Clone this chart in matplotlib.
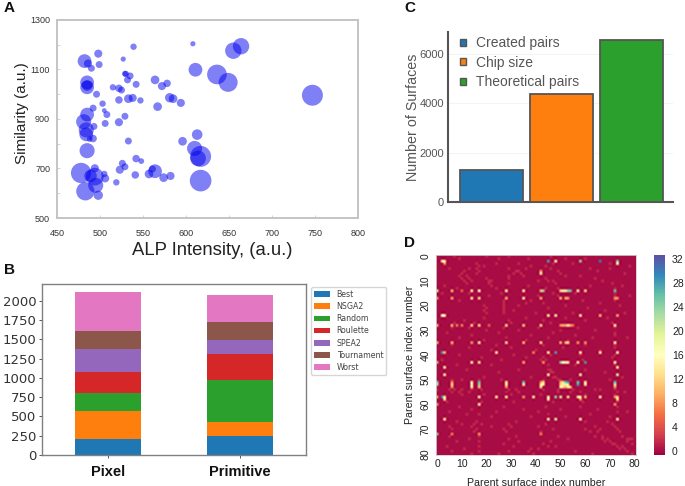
import numpy as np
import matplotlib
matplotlib.use('Agg')
import matplotlib.pyplot as plt
from matplotlib.patches import Patch

plt.rcParams['font.family'] = ['Liberation Sans', 'DejaVu Sans']

W, H = 685, 486

# panel A, one bubble per surface
alp = [482, 486, 490, 498, 499, 539, 527, 608, 664, 655, 611, 636, 649, 747, 485, 485, 485,
       529, 530, 535, 532, 542, 564, 578, 572, 515, 522, 525, 496, 522, 533, 538, 547, 503,
       567, 581, 585, 594, 492, 505, 508, 529, 485, 481, 506, 522, 493,
       484, 484, 492, 488, 485, 533, 596, 613, 610, 617, 614, 617, 526, 529, 523, 542, 548,
       494, 478, 489, 494, 505, 506, 495, 483, 498, 519, 541, 557, 561, 564, 574, 582]
similarity = [1134, 1124, 1105, 1164, 1120, 1192, 1142, 1204, 1194, 1176, 1099, 1080, 1048, 996, 1048, 1028, 1035,
              1083, 1082, 1074, 1058, 1040, 1058, 1044, 1033, 1028, 1024, 1017, 1000, 977, 982, 985, 975, 962,
              950, 986, 982, 965, 944, 934, 918, 911, 918, 889, 882, 887, 870,
              856, 838, 821, 819, 772, 811, 810, 837, 781, 749, 741, 651, 721, 707, 695, 740, 730,
              701, 682, 670, 667, 678, 660, 632, 608, 592, 644, 674, 678, 698, 689, 663, 670]
bubble = [98, 34, 25, 34, 25, 21, 14, 14, 139, 139, 98, 200, 187, 227, 98, 98, 58,
          17, 21, 25, 25, 25, 39, 29, 34, 21, 29, 25, 25, 29, 39, 34, 21, 21,
          39, 45, 39, 34, 25, 12, 25, 25, 98, 118, 25, 34, 25,
          118, 98, 29, 17, 118, 25, 39, 58, 118, 227, 128, 242, 25, 25, 34, 29, 17,
          34, 213, 81, 162, 21, 34, 118, 174, 45, 21, 29, 39, 25, 98, 39, 34]

# panel B
groups = ['Pixel', 'Primitive']
methods = ['Best', 'NSGA2', 'Random', 'Roulette', 'SPEA2', 'Tournament', 'Worst']
pixel_counts = [207, 366, 224, 276, 302, 237, 496]
primitive_counts = [250, 181, 539, 345, 176, 233, 353]

# panel C
pair_names = ['Created pairs', 'Chip size', 'Theoretical pairs']
pair_counts = [1300, 4370, 6580]

# panel D, the bright cells: row -> {column: count}
bright_cells = {
    2: {2: 14, 3: 15, 45: 28, 48: 14, 58: 24, 66: 30, 73: 24},
    3: {3: 8, 73: 15},
    6: {42: 8},
    7: {42: 14},
    14: {0: 20, 6: 10, 10: 5, 14: 14, 17: 16, 28: 14, 35: 14, 42: 10, 43: 24, 50: 12, 51: 14, 52: 14,
         53: 24, 54: 26, 57: 14, 60: 12, 72: 26},
    17: {0: 8, 6: 9, 14: 14, 17: 12, 28: 10, 35: 14, 42: 9, 50: 10, 52: 9, 53: 8, 72: 8, 73: 8},
    24: {2: 16, 3: 16, 45: 14, 48: 14, 58: 14, 66: 10, 73: 9},
    28: {0: 10, 6: 10, 8: 7, 10: 7, 14: 12, 17: 12, 21: 5, 28: 12, 35: 11, 42: 12, 50: 8, 51: 9, 52: 9,
         53: 14, 54: 9, 55: 6, 72: 14},
    35: {0: 10, 6: 10, 14: 8, 17: 14, 28: 12, 35: 10, 42: 12, 50: 10, 52: 10, 53: 12, 57: 8, 60: 8, 72: 14},
    39: {2: 28, 3: 10, 24: 14, 39: 7, 45: 14, 48: 28, 58: 14, 66: 14, 73: 14},
    43: {0: 9, 14: 14, 17: 13, 35: 9, 43: 8, 50: 24, 51: 16, 52: 14, 53: 14, 57: 14, 60: 28, 72: 14},
    45: {3: 14, 73: 14},
    48: {3: 14, 45: 14, 58: 14, 73: 20},
    51: {0: 24, 6: 8, 14: 14, 17: 26, 28: 13, 35: 26, 42: 8, 43: 12, 50: 10, 51: 12, 52: 26, 53: 28,
         57: 26, 60: 14, 72: 26},
    52: {0: 22, 6: 12, 14: 15, 17: 24, 28: 14, 35: 14, 42: 14, 43: 14, 50: 12, 51: 14, 52: 14, 53: 13,
         57: 28, 60: 14, 72: 20},
    53: {6: 8, 14: 14, 17: 10, 28: 8, 42: 12, 50: 14, 51: 12, 52: 9, 53: 14, 54: 11, 72: 8},
    57: {0: 9, 2: 28, 3: 14, 17: 14, 24: 14, 28: 14, 35: 8, 39: 14, 45: 14, 48: 24, 50: 20, 53: 12,
         57: 14, 58: 14, 60: 10, 66: 14, 72: 8, 73: 12},
    58: {3: 13, 45: 14, 58: 8, 73: 13},
    60: {0: 8, 17: 14, 72: 8},
    66: {3: 14, 45: 14, 48: 20, 58: 14, 73: 14},
    72: {0: 24, 6: 7, 17: 8, 42: 7},
}
# the dim speckle, count about 2: row -> columns
faint_cells = {
    0: [7, 20, 29, 46], 1: [9, 25, 37, 52, 60], 3: [16, 24, 33, 47, 55, 70],
    4: [17, 19, 38, 44, 78], 5: [5, 13, 16, 29, 36, 46, 62, 70], 6: [11, 17, 32, 33, 49, 65],
    7: [10, 16, 31, 34, 50, 76], 8: [9, 12, 29, 35, 52, 58], 9: [10, 13, 20, 29, 44, 64],
    10: [11, 14, 21, 22, 41, 45, 47, 67], 11: [12, 21, 29, 48, 71], 12: [3, 22, 37, 62, 75],
    13: [8, 24, 44, 49, 72], 15: [2, 13, 26, 47, 56, 72], 16: [21, 41, 49, 72, 78],
    18: [9, 27, 38, 59, 72], 19: [27, 36, 43, 66], 20: [19, 27, 33, 52, 74],
    21: [20, 27, 45, 61], 22: [19, 27, 31, 68], 23: [20, 27, 40, 55, 76], 25: [19, 36, 52, 69],
    26: [11, 29, 43, 60], 27: [7, 15, 30, 46, 71], 29: [6, 13, 27, 41, 57, 72], 30: [20, 33, 50, 64],
    31: [4, 25, 47, 72], 32: [14, 38, 56, 72], 33: [9, 28, 45, 63, 77], 34: [19, 36, 53],
    36: [6, 24, 43, 60, 72], 37: [13, 30, 51, 72], 38: [22, 40, 66], 40: [9, 31, 46, 58, 72],
    41: [18, 36, 43, 71], 42: [2, 26, 42, 44, 59], 44: [8, 22, 45, 56, 72], 46: [12, 33, 45, 46, 60],
    47: [25, 46, 47, 68], 49: [19, 38, 47, 48, 75], 50: [6, 10, 17, 26, 43, 49, 50, 54, 70],
    54: [0, 5, 7, 10, 14, 18, 29, 32, 43, 49, 55, 64, 66, 72], 55: [6, 9, 13, 28, 33, 49, 54, 58, 73, 76],
    56: [10, 19, 30, 42, 60, 72], 59: [4, 18, 31, 47, 59, 73], 61: [9, 27, 44, 58, 73],
    62: [14, 35, 50, 65], 63: [5, 24, 41, 73, 77], 64: [12, 17, 45, 62], 65: [22, 38, 52, 70],
    67: [8, 16, 32, 60, 69], 68: [10, 15, 18, 29, 44, 71], 69: [5, 14, 22, 30, 41, 64, 72],
    70: [6, 16, 27, 47, 60, 66, 73], 71: [15, 28, 42, 62, 65, 74], 73: [5, 17, 32, 49, 64, 67, 75],
    74: [13, 29, 53, 67, 69, 77, 78, 79], 75: [8, 17, 33, 46, 68, 70, 77], 76: [27, 43, 71, 72, 79],
    77: [4, 17, 31, 45, 48, 73, 75], 78: [11, 38, 41, 74, 76], 79: [6, 17, 29, 37, 56, 77],
    80: [14, 25, 39, 63, 79],
}


def add_ax(left, top, right, bottom):
    return fig.add_axes([left / W, 1 - bottom / H, (right - left) / W, (bottom - top) / H])


fig = plt.figure(figsize=(W / 100, H / 100), dpi=100)

# A
ax = add_ax(57, 20, 358, 218)
ax.scatter(alp, similarity, s=bubble, c='#0000ee', alpha=0.5, linewidths=0)
ax.set_xlim(450, 800)
ax.set_ylim(500, 1300)
ax.set_xticks(np.arange(450, 801, 50))
ax.set_yticks(np.arange(500, 1301, 200))
ax.set_yticks(np.arange(600, 1300, 200), minor=True)
ax.tick_params(which='both', direction='in', length=2, width=0.6, color='#cccccc', labelsize=6.5,
               labelcolor='#333333', pad=6)
ax.tick_params(axis='y', pad=5)
ax.tick_params(axis='x', pad=8)
for s in ax.spines.values():
    s.set_color('#c4c4c4')
    s.set_linewidth(1.4)
ax.set_xlabel('ALP Intensity, (a.u.)', fontsize=13.3, color='#222222')
ax.xaxis.set_label_coords(0.515, -0.12)
ax.set_ylabel('Similarity (a.u.)', fontsize=11, color='#222222')
ax.yaxis.set_label_coords(-0.093, 0.53)

# B
ax = add_ax(42, 284, 306, 455)
bottom = np.zeros(2)
for i, name in enumerate(methods):
    vals = np.array([pixel_counts[i], primitive_counts[i]])
    ax.bar([0, 1], vals, 0.5, bottom=bottom, color='C%d' % i, label=name)
    bottom += vals
ax.set_xlim(-0.5, 1.5)
ax.set_ylim(0, 2216)
ax.set_yticks(np.arange(0, 2001, 250))
ax.set_xticks([0, 1])
ax.set_xticklabels(groups, fontsize=10.5, fontweight='bold', color='#111111')
ax.tick_params(axis='y', labelsize=9.5, labelcolor='#333333', length=2.5, width=0.7, color='#555555', pad=1.5)
ax.tick_params(axis='y', labelfontfamily='DejaVu Sans')
ax.tick_params(axis='x', length=2.5, width=0.7, color='#555555', pad=5)
for s in ax.spines.values():
    s.set_color('#808080')
    s.set_linewidth(1.0)
leg = ax.legend(loc='upper left', bbox_to_anchor=(269 / 264, 0.982), borderaxespad=0,
                labelspacing=0.4, handlelength=2.0, borderpad=0.35,
                prop={'family': 'DejaVu Sans', 'size': 5.7}, labelcolor='#444444', handletextpad=0.9)

# C
ax = add_ax(448, 32, 673, 202)
bar_colors = ['#1f77b4', '#ff7f0e', '#2ca02c']
ax.bar([0, 1, 2], pair_counts, 0.9, color=bar_colors, edgecolor='#555555', linewidth=1.3, zorder=3)
ax.set_xlim(-0.621, 2.593)
ax.set_ylim(0, 6892)
ax.set_yticks([0, 2000, 4000, 6000])
ax.set_xticks([])
ax.grid(axis='y', color='#f4f4f4', linewidth=0.8, zorder=0)
ax.tick_params(axis='y', length=0, labelsize=8, labelcolor='#555555', pad=3)
for name in ['top', 'right']:
    ax.spines[name].set_visible(False)
for name in ['left', 'bottom']:
    ax.spines[name].set_color('#555555')
    ax.spines[name].set_linewidth(1.5)
ax.set_ylabel('Number of Surfaces', fontsize=10.3, color='#555555')
ax.yaxis.set_label_coords(-0.125, 0.497)
handles = [Patch(facecolor=c, edgecolor='#555555', linewidth=1.0) for c in bar_colors]
ax.legend(handles, pair_names, loc='upper left', bbox_to_anchor=(0.035, 1.0), frameon=False, fontsize=10,
          labelcolor='#555555', handlelength=0.42, handleheight=0.42, labelspacing=0.4, handletextpad=0.75,
          borderaxespad=0, borderpad=0.3)

# D
counts = np.zeros((81, 81))
for row, cols in faint_cells.items():
    counts[row, cols] = 1.6
for row, cells in bright_cells.items():
    for col, val in cells.items():
        counts[row, col] = val
ax = add_ax(436, 255, 636, 455)
im = ax.imshow(counts, cmap='Spectral', vmin=-0.67, vmax=32.67, aspect='auto',
               interpolation='catrom', interpolation_stage='rgba')
ax.set_xticks(np.arange(0, 81, 10))
ax.set_yticks(np.arange(0, 81, 10))
ax.tick_params(length=0, labelsize=7.5, labelcolor='#222222', pad=3)
ax.tick_params(axis='y', labelrotation=90, pad=4)
for lab in ax.get_yticklabels():
    lab.set_va('center')
for s in ax.spines.values():
    s.set_color('#cccccc')
    s.set_linewidth(0.6)
ax.set_xlabel('Parent surface index number', fontsize=7.7, color='#222222', labelpad=6)
ax.set_ylabel('Parent surface index number', fontsize=7.7, color='#222222', labelpad=4)
cax = add_ax(654, 255, 665, 455)
cbar = fig.colorbar(im, cax=cax)
cbar.set_ticks(np.arange(0, 33, 4))
cbar.ax.tick_params(length=0, labelsize=7.5, labelcolor='#222222', pad=5)
cbar.outline.set_visible(False)

# panel letters
for letter, x, y in [('A', 4, 8), ('B', 4, 270), ('C', 404, 8), ('D', 404, 243)]:
    fig.text(x / W, 1 - y / H, letter, fontsize=11, fontweight='bold', va='center', color='#111111')

fig.savefig('out.png', dpi=100)
